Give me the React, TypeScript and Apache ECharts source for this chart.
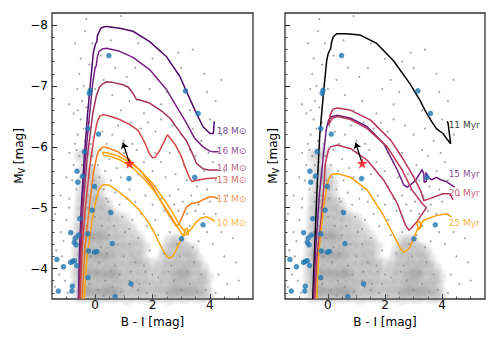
import React, { useEffect, useRef } from 'react';
import * as echarts from 'echarts';

const FONT = 'DejaVu Sans';

// axis ticks
const xMajor = [0, 2, 4];
const xMinor = [-1, -0.5, 0.5, 1, 1.5, 2.5, 3, 3.5, 4.5, 5];
const yMajor = [-8, -7, -6, -5, -4];
const yMinor = [-7.8, -7.6, -7.4, -7.2, -6.8, -6.6, -6.4, -6.2, -5.8, -5.6, -5.4, -5.2, -4.8, -4.6, -4.4, -4.2, -3.8, -3.6];

// observed stars
const bluePts = [
  [0.48, -7.5], [-0.2, -6.88], [-0.17, -6.93], [-0.25, -6.3], [0.12, -6.21], [-0.37, -5.92], [-0.63, -5.6], [-0.6, -5.42],
  [-0.43, -5.52], [-0.02, -5.35], [1.18, -5.48], [3.15, -6.92], [3.59, -6.55], [3.47, -5.5], [3.76, -4.72], [3.01, -4.49],
  [0.55, -4.92], [0.6, -4.41], [-0.1, -4.96], [-0.53, -4.82], [-0.85, -4.59], [-0.72, -4.43], [-0.69, -4.5], [-0.66, -4.39],
  [-0.58, -4.55], [-0.25, -4.57], [-0.02, -4.27], [0.06, -4.28], [-0.23, -4.29], [-0.85, -4.1], [-0.79, -4.12], [-0.72, -4.13],
  [-0.64, -4.05], [-1.33, -4.15], [-1.1, -4.03], [-1.28, -3.63], [-0.79, -3.71], [-0.81, -3.63], [-0.25, -3.85], [1.25, -3.75],
  [0.7, -3.54],
];

// background field stars: density (soft blobs)
const grayCore = [
  [-0.52, -3.55], [-0.25, -3.58], [0.03, -3.54], [0.3, -3.57], [0.58, -3.55], [0.85, -3.58], [1.12, -3.54], [1.4, -3.57], [1.68, -3.56], [2.0, -3.55], [2.3, -3.57], [2.56, -3.54], [2.84, -3.57], [3.1, -3.55], [3.38, -3.58], [3.65, -3.55], [3.9, -3.57],
  [-0.56, -3.71], [-0.3, -3.69], [-0.02, -3.72], [0.26, -3.7], [0.52, -3.68], [0.8, -3.71], [1.08, -3.7], [1.36, -3.72], [1.62, -3.69], [1.9, -3.72], [2.15, -3.7], [2.42, -3.71], [2.7, -3.69], [2.97, -3.72], [3.25, -3.7], [3.52, -3.68], [3.78, -3.71],
  [-0.6, -3.86], [-0.33, -3.84], [-0.05, -3.87], [0.22, -3.85], [0.5, -3.83], [0.76, -3.86], [1.04, -3.84], [1.3, -3.87], [1.58, -3.85], [1.85, -3.88], [2.2, -3.87], [2.5, -3.86], [2.78, -3.84], [3.05, -3.86], [3.32, -3.85], [3.6, -3.83], [3.85, -3.86],
  [-0.58, -4.01], [-0.3, -3.99], [-0.02, -4.02], [0.25, -4.0], [0.53, -3.98], [0.8, -4.01], [1.08, -4.0], [1.35, -4.02], [1.65, -4.0], [1.95, -4.05], [2.3, -4.0], [2.6, -4.0], [2.88, -4.02], [3.15, -3.99], [3.42, -4.01], [3.7, -4.0],
  [-0.57, -4.16], [-0.28, -4.14], [0.0, -4.17], [0.28, -4.15], [0.55, -4.13], [0.83, -4.16], [1.12, -4.15], [1.4, -4.17], [1.62, -4.15], [2.4, -4.15], [2.7, -4.15], [2.98, -4.16], [3.25, -4.14], [3.5, -4.15],
  [-0.56, -4.31], [-0.28, -4.29], [0.0, -4.32], [0.27, -4.3], [0.55, -4.28], [0.82, -4.31], [1.1, -4.3], [1.38, -4.32], [1.65, -4.35], [2.5, -4.3], [2.8, -4.3], [3.1, -4.31], [3.35, -4.3],
  [-0.55, -4.46], [-0.27, -4.44], [0.02, -4.47], [0.3, -4.45], [0.58, -4.43], [0.86, -4.46], [1.15, -4.45], [1.45, -4.5], [2.65, -4.45], [2.95, -4.45],
  [-0.52, -4.61], [-0.25, -4.59], [0.03, -4.62], [0.3, -4.6], [0.58, -4.58], [0.88, -4.61], [1.2, -4.65],
  [-0.5, -4.76], [-0.22, -4.74], [0.05, -4.77], [0.33, -4.75], [0.62, -4.73], [0.95, -4.8],
  [-0.48, -4.91], [-0.2, -4.89], [0.07, -4.92], [0.35, -4.9], [0.6, -4.88],
  [-0.45, -5.06], [-0.18, -5.04], [0.1, -5.07], [0.36, -5.05],
  [-0.42, -5.21], [-0.15, -5.19], [0.12, -5.22],
  [-0.4, -5.41], [-0.12, -5.39], [0.12, -5.42],
  [-0.35, -5.61], [-0.08, -5.59], [-0.45, -5.85], [-0.2, -5.9],
];
const grayCoreDark = [
  [-0.38, -3.62], [-0.1, -3.64], [0.17, -3.6], [0.44, -3.63], [0.7, -3.61], [-0.4, -3.92], [-0.12, -3.94], [0.15, -3.9],
  [0.42, -3.93], [0.68, -3.91], [-0.38, -4.22], [-0.1, -4.24], [0.17, -4.2], [0.44, -4.23], [-0.3, -4.52], [0.0, -4.55],
  [0.25, -4.52], [2.7, -3.62], [2.98, -3.64], [3.25, -3.6], [2.85, -3.9], [3.12, -3.92],
];
// background field stars: individual dots
const grayDots = [
  [-0.3, -8.1], [0.9, -8.15], [2.9, -7.55], [3.4, -7.6], [2.6, -7.4], [3.8, -7.2], [1.5, -7.7], [0.7, -7.3], [1.1, -7.15], [-0.5, -7.45],
  [-0.55, -7.2], [-0.4, -7.0], [-0.2, -7.35], [-0.62, -6.95], [-0.45, -6.75], [-0.3, -6.65], [0.0, -6.95], [0.3, -7.1], [0.6, -6.85], [1.4, -7.3],
  [2.2, -7.1], [2.5, -6.9], [1.9, -6.95], [3.0, -7.3], [3.9, -6.9], [4.2, -6.75], [3.3, -6.6], [2.3, -6.7], [1.2, -6.75], [0.9, -6.6],
  [-0.7, -7.7], [-0.1, -7.7], [0.2, -7.5], [-0.35, -7.9], [0.55, -7.75], [4.4, -7.1], [-0.9, -6.7], [-0.75, -6.55], [2.0, -7.45], [1.7, -6.55],
  [-0.5, -6.45], [-0.4, -6.3], [-0.6, -6.2], [-0.7, -6.05], [-0.35, -6.1], [-0.2, -6.4], [0.05, -6.35], [0.25, -6.25], [0.4, -6.05], [0.6, -6.2],
  [0.8, -6.35], [1.0, -6.1], [1.3, -6.05], [1.6, -6.3], [1.85, -6.4], [2.1, -6.25], [2.3, -6.45], [2.7, -6.35], [3.0, -6.2], [3.4, -6.3],
  [3.7, -6.1], [4.0, -6.45], [4.4, -6.2], [-0.9, -5.9], [-0.55, -5.85], [-0.45, -5.7], [-0.75, -5.7], [-0.3, -5.75], [-0.1, -5.85], [0.1, -5.7],
  [0.35, -5.6], [0.5, -5.8], [0.75, -5.65], [1.0, -5.9], [1.45, -5.95], [1.7, -5.75], [2.0, -5.6], [2.3, -5.75], [2.6, -5.9], [2.8, -5.55],
  [3.1, -5.7], [3.5, -5.85], [3.8, -5.6], [4.1, -5.75], [4.5, -5.6], [-1.0, -5.5], [-0.8, -5.45], [-0.65, -5.3], [-0.5, -5.5], [-0.35, -5.35],
  [-0.2, -5.55], [-0.05, -5.45], [0.15, -5.5], [0.3, -5.3], [0.55, -5.45], [0.7, -5.25], [0.9, -5.5], [1.2, -5.3], [1.5, -5.55], [1.75, -5.2],
  [2.1, -5.35], [2.45, -5.5], [2.6, -5.2], [2.9, -5.3], [3.2, -5.45], [3.35, -5.2], [3.55, -5.35], [3.9, -5.3], [4.2, -5.45], [-1.2, -5.2],
  [-0.9, -5.15], [-0.45, -5.1], [-0.25, -5.2], [0.05, -5.15], [0.45, -5.1], [0.85, -5.05], [1.1, -5.15], [1.4, -5.1], [2.0, -5.05], [2.3, -5.15],
  [2.75, -5.05], [3.05, -5.1], [3.6, -5.05], [4.0, -5.1], [4.6, -5.2], [-0.6, -6.6], [-0.15, -6.05], [0.2, -5.95], [-0.65, -5.95], [-0.25, -6.25],
  [1.25, -6.4], [2.1, -5.9], [3.3, -5.95], [3.95, -5.9],
  [-1.4, -4.9], [-1.2, -4.6], [-1.35, -4.3], [-1.1, -4.45], [-1.0, -4.8], [-1.25, -3.9], [-1.4, -3.7], [-1.05, -3.8], [-1.15, -4.2], [-0.95, -3.6],
  [1.6, -4.9], [1.8, -4.7], [1.5, -4.5], [1.9, -4.3], [2.1, -4.8], [2.4, -4.95], [2.2, -4.55], [1.7, -4.05], [1.55, -3.75], [1.8, -3.6],
  [2.0, -3.9], [4.2, -4.9], [4.4, -4.6], [4.1, -4.4], [4.5, -4.2], [4.3, -3.9], [4.6, -3.75], [4.2, -3.6], [3.8, -4.9], [3.5, -4.95],
  [3.9, -4.6], [3.2, -4.9], [2.9, -4.95], [3.3, -4.7], [4.8, -4.5], [5.0, -3.8], [4.9, -4.1], [-0.9, -5.0], [3.6, -4.45], [2.6, -4.6],
  [1.3, -4.8], [1.2, -4.4], [1.4, -4.1], [1.3, -3.7],
  [-0.45, -3.6], [-0.2, -3.75], [0.1, -3.65], [0.35, -3.8], [0.6, -3.7], [0.9, -3.62], [1.2, -3.8], [1.5, -3.65], [-0.4, -4.05], [-0.15, -4.2],
  [0.15, -4.1], [0.4, -4.25], [0.7, -4.05], [1.0, -4.2], [1.25, -3.95], [-0.35, -4.4], [-0.05, -4.5], [0.2, -4.35], [0.5, -4.55], [0.8, -4.4],
  [1.05, -4.6], [-0.3, -4.7], [0.0, -4.85], [0.25, -4.7], [0.5, -4.95], [-0.25, -5.0], [0.05, -5.3], [-0.2, -5.5], [2.5, -3.6], [2.75, -3.8],
  [3.0, -3.65], [3.3, -3.75], [3.55, -3.62], [2.65, -4.05], [2.95, -4.2], [3.2, -3.95], [3.45, -4.1], [2.85, -4.4], [3.1, -4.55], [3.4, -4.35],
  [1.9, -3.75], [2.2, -3.85], [2.1, -3.55], [1.75, -3.95], [0.95, -4.85], [1.2, -4.65], [-0.5, -3.95], [-0.5, -4.6], [0.3, -3.55], [0.55, -3.95],
  [0.85, -3.9], [1.0, -3.55], [3.7, -3.9], [3.85, -3.65], [2.4, -4.25], [2.55, -3.95], [0.65, -4.7], [0.4, -5.15], [-0.1, -5.7], [-0.45, -5.25],
];

// the highlighted star and its motion arrow
const starPos = [1.2, -5.73];
const arrowTip = [0.97, -6.07];

// evolutionary tracks (left panel)
const track18 = [
  [-0.58, -3.5], [-0.54, -4.3], [-0.48, -5.0], [-0.38, -5.8], [-0.26, -6.55], [-0.15, -7.1], [-0.06, -7.55], [0.02, -7.7], [0.06, -7.72],
  [0.08, -7.82], [0.13, -7.88], [0.2, -7.95], [0.3, -7.97], [0.4, -7.98], [0.86, -7.95], [1.32, -7.9], [1.9, -7.73], [2.49, -7.48],
  [2.95, -7.16], [3.24, -6.85], [3.53, -6.55], [3.76, -6.33], [4.0, -6.22], [4.12, -6.22], [4.15, -6.42],
];
const track16 = [
  [-0.57, -3.5], [-0.52, -4.3], [-0.46, -5.0], [-0.34, -5.8], [-0.2, -6.5], [-0.08, -7.05], [0.0, -7.3], [0.04, -7.33], [0.08, -7.48],
  [0.14, -7.57], [0.25, -7.61], [0.4, -7.62], [0.86, -7.57], [1.32, -7.47], [1.9, -7.27], [2.49, -6.94], [2.84, -6.66], [3.15, -6.42],
  [3.47, -6.14], [3.76, -6.0], [4.0, -5.93], [4.11, -5.92], [4.3, -5.92],
];
const track14 = [
  [-0.55, -3.5], [-0.49, -4.3], [-0.42, -5.0], [-0.28, -5.8], [-0.08, -6.55], [0.05, -6.85], [0.15, -6.98], [0.25, -7.03], [0.41, -7.07],
  [0.6, -7.06], [0.98, -7.02], [1.16, -6.98], [1.32, -6.88], [1.44, -6.78], [1.56, -6.77], [1.9, -6.72], [2.37, -6.57], [2.61, -6.47],
  [2.9, -6.28], [3.18, -6.1], [3.4, -5.88], [3.53, -5.73], [3.76, -5.64], [3.95, -5.62], [4.3, -5.62],
];
const track13 = [
  [-0.52, -3.5], [-0.45, -4.3], [-0.34, -5.0], [-0.18, -5.7], [-0.02, -6.2], [0.08, -6.42], [0.17, -6.51], [0.3, -6.53], [0.55, -6.5],
  [0.85, -6.45], [1.2, -6.37], [1.5, -6.27], [1.72, -6.08], [1.9, -5.88], [2.0, -5.82], [2.1, -5.83], [2.25, -5.94], [2.4, -6.08],
  [2.52, -6.2], [2.65, -6.12], [2.8, -6.03], [3.0, -5.85], [3.15, -5.65], [3.3, -5.48], [3.37, -5.43], [3.55, -5.45], [3.9, -5.48], [4.25, -5.49],
];
const track11 = [
  [-0.45, -3.5], [-0.36, -4.3], [-0.2, -5.0], [-0.05, -5.6], [0.08, -5.88], [0.18, -5.97], [0.3, -6.0], [0.45, -5.98], [0.8, -5.92],
  [1.2, -5.78], [1.6, -5.6], [2.0, -5.35], [2.3, -5.1], [2.55, -4.9], [2.75, -4.75], [2.84, -4.69], [2.95, -4.76], [3.18, -5.01],
  [3.3, -5.05], [3.36, -5.07], [3.6, -5.09], [3.8, -5.14], [4.0, -5.18], [4.11, -5.18], [4.29, -5.15],
];
const track10 = [
  [-0.38, -3.5], [-0.28, -4.2], [-0.1, -4.8], [0.02, -5.1], [0.12, -5.28], [0.22, -5.36], [0.3, -5.38], [0.5, -5.37], [0.86, -5.25],
  [1.2, -5.12], [1.56, -4.95], [1.8, -4.8], [2.02, -4.63], [2.2, -4.45], [2.37, -4.3], [2.5, -4.2], [2.6, -4.17], [2.7, -4.2],
  [2.84, -4.32], [2.97, -4.45], [3.07, -4.55], [3.13, -4.6], [2.9, -4.75], [2.6, -5.0], [2.3, -5.2], [2.0, -5.4], [1.6, -5.6],
  [1.2, -5.75], [0.8, -5.85], [0.45, -5.9], [0.27, -5.91], [0.3, -5.86], [0.5, -5.85], [0.9, -5.78], [1.3, -5.66], [1.7, -5.48],
  [2.1, -5.25], [2.45, -5.0], [2.75, -4.78], [2.95, -4.62], [3.05, -4.55], [3.25, -4.56], [3.22, -4.66], [3.1, -4.64], [3.2, -4.58],
  [3.35, -4.65], [3.53, -4.77], [3.7, -4.83], [3.88, -4.85], [4.0, -4.83], [4.1, -4.8], [4.17, -4.77],
];
const massLabels = ['18 M⊙', '16 M⊙', '14 M⊙', '13 M⊙', '11 M⊙', '10 M⊙'];
const massLabelY = [-6.26, -5.94, -5.65, -5.45, -5.15, -4.75];
const massColors = ['#4e0d6c', '#782281', '#a2305e', '#cf4446', '#f07c1e', '#fca50a'];

// isochrones (right panel)
const iso11 = [
  [-0.53, -3.5], [-0.45, -4.5], [-0.37, -5.4], [-0.28, -6.22], [-0.15, -6.9], [-0.04, -7.42], [0.01, -7.53], [0.06, -7.58], [0.1, -7.62],
  [0.13, -7.72], [0.19, -7.81], [0.31, -7.86], [0.66, -7.86], [1.12, -7.84], [1.71, -7.7], [2.29, -7.42], [2.87, -7.04], [3.22, -6.77],
  [3.4, -6.6], [3.63, -6.42], [3.8, -6.3], [4.03, -6.22], [4.15, -6.14], [4.3, -6.05], [4.21, -6.38], [4.18, -6.42],
];
const iso15 = [
  [-0.5, -3.5], [-0.43, -4.3], [-0.3, -5.2], [-0.15, -5.9], [-0.05, -6.3], [0.02, -6.43], [0.1, -6.49], [0.33, -6.52], [0.8, -6.47],
  [1.38, -6.33], [1.96, -6.05], [2.43, -5.62], [2.66, -5.37], [2.78, -5.34], [2.9, -5.38], [3.07, -5.45], [3.2, -5.55], [3.3, -5.63],
  [3.36, -5.55], [3.37, -5.42], [3.45, -5.43], [3.43, -5.58], [3.52, -5.5], [3.63, -5.46], [3.8, -5.5], [3.95, -5.46], [4.15, -5.43],
  [4.3, -5.38], [4.44, -5.34],
];
const iso20 = [
  [-0.46, -3.5], [-0.38, -4.2], [-0.25, -4.74], [-0.15, -5.3], [-0.08, -5.75], [0.02, -5.95], [0.1, -6.0], [0.33, -6.03], [0.8, -5.97],
  [1.38, -5.78], [1.96, -5.45], [2.43, -5.07], [2.72, -4.71], [2.84, -4.63], [2.95, -4.68], [3.13, -4.78], [3.3, -4.9], [3.45, -5.0],
  [3.3, -5.07], [2.95, -5.29], [2.6, -5.62], [2.08, -6.0], [1.38, -6.3], [0.8, -6.45], [0.35, -6.5], [0.15, -6.47], [0.02, -6.36],
  [0.08, -6.52], [0.18, -6.62], [0.35, -6.64], [0.8, -6.6], [1.5, -6.44], [2.2, -6.11], [2.66, -5.78], [3.01, -5.5], [3.24, -5.29],
  [3.36, -5.12], [3.57, -5.15], [4.03, -5.23], [4.27, -5.23], [4.38, -5.13],
];
const iso25 = [
  [-0.39, -3.5], [-0.31, -4.3], [-0.15, -5.0], [-0.02, -5.4], [0.06, -5.5], [0.15, -5.55], [0.33, -5.56], [0.8, -5.5], [1.38, -5.29],
  [1.94, -4.88], [2.4, -4.46], [2.55, -4.32], [2.66, -4.27], [2.77, -4.3], [2.87, -4.35], [3.05, -4.55], [3.16, -4.68], [3.1, -4.74],
  [3.2, -4.78], [3.28, -4.7], [3.18, -4.64], [3.25, -4.72], [3.34, -4.79], [3.55, -4.83], [3.8, -4.87], [4.15, -4.9], [4.33, -4.85],
];
const ageLabels = ['11 Myr', '15 Myr', '20 Myr', '25 Myr'];
const ageLabelY = [-6.36, -5.55, -5.25, -4.75];
const ageColors = ['#000000', '#6b1e80', '#b83556', '#fba00c'];

const massLabelX = 4.22;
const ageLabelX = 4.21;

const STAR = 'path://M50,0 L61,35 L98,35 L68,57 L79,91 L50,70 L21,91 L32,57 L2,35 L39,35 Z';

const fmt = (v: number) => (v < 0 ? '\u2212' + Math.abs(v) : String(v));

const blob = (a: number) => ({
  type: 'radial', x: 0.5, y: 0.5, r: 0.5,
  colorStops: [
    { offset: 0, color: `rgba(120,120,120,${a})` },
    { offset: 0.55, color: `rgba(120,120,120,${a * 0.6})` },
    { offset: 1, color: 'rgba(120,120,120,0)' },
  ],
});

function axesFor(g: number) {
  const xs = [
    {
      type: 'value', gridIndex: g, min: -1.5, max: 5.5, position: 'bottom',
      axisLine: { show: false, onZero: false }, splitLine: { show: false },
      axisTick: { show: true, inside: true, length: 5, customValues: xMajor, lineStyle: { color: '#222', width: 1 } },
      axisLabel: { show: true, customValues: xMajor, margin: 0, fontSize: 12, color: '#000', fontFamily: FONT, formatter: fmt },
      name: 'B - I [mag]', nameLocation: 'middle', nameGap: 16,
      nameTextStyle: { fontSize: 12, color: '#000', fontFamily: FONT },
    },
    {
      type: 'value', gridIndex: g, min: -1.5, max: 5.5, position: 'bottom',
      axisLine: { show: false, onZero: false }, splitLine: { show: false }, axisLabel: { show: false },
      axisTick: { show: true, inside: true, length: 2.5, customValues: xMinor, lineStyle: { color: '#222', width: 0.8 } },
    },
  ];
  const ys = [
    {
      type: 'value', gridIndex: g, min: -8.2, max: -3.5, inverse: true, position: 'left',
      axisLine: { show: false, onZero: false }, splitLine: { show: false },
      axisTick: { show: true, inside: true, length: 5, customValues: yMajor, lineStyle: { color: '#222', width: 1 } },
      axisLabel: { show: g === 0, customValues: yMajor, margin: 4, fontSize: 12, color: '#000', fontFamily: FONT, formatter: fmt },
      name: '{m|M}{s|V}{m| [mag]}', nameLocation: 'middle', nameGap: g === 0 ? 20 : 5,
      nameTextStyle: {
        color: '#000', fontFamily: FONT,
        rich: {
          m: { fontSize: 12, lineHeight: 15, fontFamily: FONT, color: '#000' },
          s: { fontSize: 8, lineHeight: 15, verticalAlign: 'bottom', fontFamily: FONT, color: '#000', padding: [4, 0, 0, 0] },
        },
      },
    },
    {
      type: 'value', gridIndex: g, min: -8.2, max: -3.5, inverse: true, position: 'left',
      axisLine: { show: false, onZero: false }, splitLine: { show: false }, axisLabel: { show: false },
      axisTick: { show: true, inside: true, length: 2.5, customValues: yMinor, lineStyle: { color: '#222', width: 0.8 } },
    },
  ];
  return { xs, ys };
}

function baseSeries(g: number) {
  const ax = { xAxisIndex: 2 * g, yAxisIndex: 2 * g };
  return [
    { type: 'scatter', ...ax, data: grayCore, symbolSize: 20, itemStyle: { color: blob(0.38) }, silent: true, z: 1 },
    { type: 'scatter', ...ax, data: grayCoreDark, symbolSize: 18, itemStyle: { color: blob(0.3) }, silent: true, z: 1 },
    { type: 'scatter', ...ax, data: grayDots, symbolSize: 2, itemStyle: { color: '#8f8f8f', opacity: 0.8 }, silent: true, z: 2 },
  ];
}

function topSeries(g: number) {
  const ax = { xAxisIndex: 2 * g, yAxisIndex: 2 * g };
  return [
    { type: 'scatter', ...ax, data: bluePts, symbolSize: 5.5, itemStyle: { color: '#1f77b4' }, silent: true, z: 5 },
    {
      type: 'scatter', ...ax, data: [starPos], symbol: STAR, symbolSize: 11, itemStyle: { color: '#ff1010' }, silent: true, z: 6,
      markLine: {
        silent: true, symbol: ['none', 'arrow'], symbolSize: 6, label: { show: false },
        lineStyle: { color: '#000', width: 1.3, type: 'solid' },
        data: [[{ coord: starPos }, { coord: arrowTip }]],
      },
    },
  ];
}

function lineSeries(g: number, data: number[][], color: string) {
  return {
    type: 'line', xAxisIndex: 2 * g, yAxisIndex: 2 * g, data, showSymbol: false, symbol: 'none',
    lineStyle: { color, width: 1.5 }, silent: true, z: 4, clip: true,
  };
}

function labelSeries(g: number, names: string[], x: number, ys: number[], colors: string[]) {
  return {
    type: 'scatter', xAxisIndex: 2 * g, yAxisIndex: 2 * g, symbolSize: 1, silent: true, z: 7,
    itemStyle: { color: 'transparent' },
    label: { show: true, position: 'right', distance: 0, fontSize: 9, fontFamily: FONT, formatter: (p: any) => p.name },
    data: names.map((n, i) => ({ name: n, value: [x, ys[i]], label: { color: colors[i] } })),
  };
}

export default function App() {
  const ref = useRef<HTMLDivElement>(null);
  useEffect(() => {
    if (!ref.current) return;
    const chart = echarts.init(ref.current, undefined, { renderer: 'svg' });
    const a0 = axesFor(0);
    const a1 = axesFor(1);
    const leftTracks = [track18, track16, track14, track13, track11, track10];
    const rightTracks = [iso11, iso15, iso20, iso25];
    chart.setOption({
      animation: false,
      backgroundColor: '#ffffff',
      textStyle: { fontFamily: FONT },
      grid: [
        { left: 52, top: 13, width: 201, height: 286, show: true, borderColor: '#333', borderWidth: 1.3, backgroundColor: 'transparent' },
        { left: 285, top: 13, width: 200, height: 286, show: true, borderColor: '#333', borderWidth: 1.3, backgroundColor: 'transparent' },
      ],
      xAxis: [...a0.xs, ...a1.xs],
      yAxis: [...a0.ys, ...a1.ys],
      series: [
        ...baseSeries(0),
        ...leftTracks.map((t, i) => lineSeries(0, t, massColors[i])),
        ...topSeries(0),
        labelSeries(0, massLabels, massLabelX, massLabelY, massColors),
        ...baseSeries(1),
        ...rightTracks.map((t, i) => lineSeries(1, t, ageColors[i])),
        ...topSeries(1),
        labelSeries(1, ageLabels, ageLabelX, ageLabelY, ageColors),
      ],
    });
    return () => chart.dispose();
  }, []);
  return <div ref={ref} style={{ position: 'fixed', left: 0, top: 0, width: 498, height: 343 }} />;
}
